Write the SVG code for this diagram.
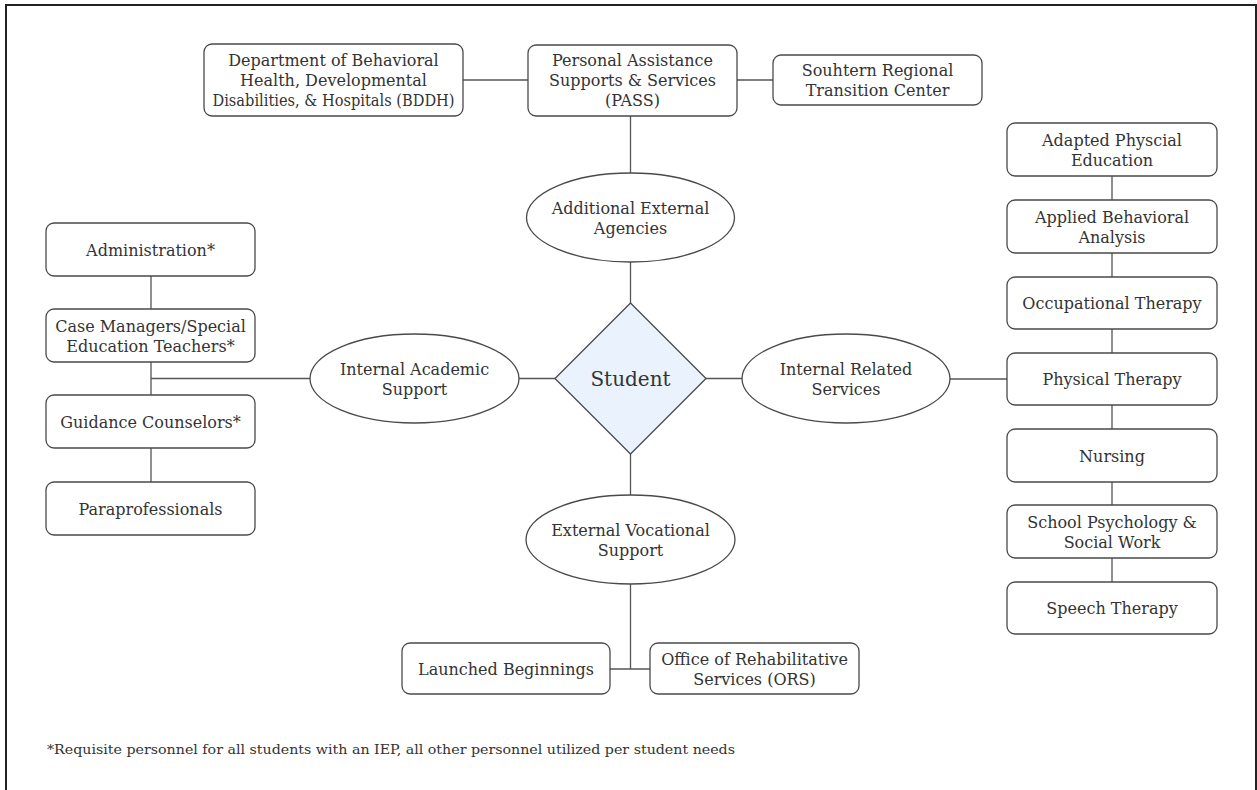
<svg xmlns="http://www.w3.org/2000/svg" width="1257" height="790" viewBox="0 0 1257 790">
<style>
.box{fill:#fff;stroke:#4a4a4a;stroke-width:1.3}
.ell{fill:#fff;stroke:#4a4a4a;stroke-width:1.3}
.dia{fill:#eaf2fd;stroke:#4a4a4a;stroke-width:1.3;stroke-linejoin:round}
.conn path{fill:none;stroke:#555;stroke-width:1.3}
text{font-family:"DejaVu Serif","Liberation Serif",serif;font-size:16px;fill:#333;text-anchor:middle}
.big{font-size:20px}
.foot{font-size:13px;text-anchor:start}
</style>
<rect x="0" y="0" width="1257" height="790" fill="#fff"/>
<rect x="6" y="5" width="1250" height="820" fill="none" stroke="#222" stroke-width="2"/>
<g class="conn" id="connectors">
<path d="M463 80H528"/>
<path d="M737 80H773"/>
<path d="M630.5 116V173"/>
<path d="M630.5 262V303"/>
<path d="M555 378.5H519"/>
<path d="M310 378.5H151"/>
<path d="M151 276V309M151 362V395M151 448V482"/>
<path d="M706 378.5H742"/>
<path d="M950 379H1007"/>
<path d="M1112 176V200M1112 253V277M1112 329V353M1112 405V429M1112 482V505M1112 558V582"/>
<path d="M630.5 454V495"/>
<path d="M630.5 584V669M610 669H650"/>
</g>
<g id="bddh"><rect class="box" x="204" y="44" width="259" height="72" rx="8"/><text x="333.5" y="66">Department of Behavioral</text><text x="333.5" y="86">Health, Developmental</text><text x="333.5" y="106" textLength="242" lengthAdjust="spacingAndGlyphs">Disabilities, &amp; Hospitals (BDDH)</text></g>
<g id="pass"><rect class="box" x="528" y="45" width="209" height="71" rx="8"/><text x="632.5" y="66">Personal Assistance</text><text x="632.5" y="86">Supports &amp; Services</text><text x="632.5" y="106">(PASS)</text></g>
<g id="southern"><rect class="box" x="773" y="55" width="209" height="50" rx="8"/><text x="877.5" y="76">Souhtern Regional</text><text x="877.5" y="96">Transition Center</text></g>
<g id="aea"><ellipse class="ell" cx="630.5" cy="217.5" rx="104" ry="44.5"/><text x="630.5" y="213.5">Additional External</text><text x="630.5" y="233.5">Agencies</text></g>
<g id="student"><path class="dia" d="M630.5 303L706 378.5L630.5 454L555 378.5Z"/><text class="big" x="630.5" y="386">Student</text></g>
<g id="ias"><ellipse class="ell" cx="414.5" cy="378.5" rx="104.5" ry="44.5"/><text x="414.5" y="374.5">Internal Academic</text><text x="414.5" y="394.5">Support</text></g>
<g id="irs"><ellipse class="ell" cx="846" cy="378.5" rx="104" ry="44.5"/><text x="846" y="374.5">Internal Related</text><text x="846" y="394.5">Services</text></g>
<g id="evs"><ellipse class="ell" cx="630.5" cy="539.5" rx="104.5" ry="44.5"/><text x="630.5" y="535.5">External Vocational</text><text x="630.5" y="555.5">Support</text></g>
<g id="admin"><rect class="box" x="46" y="223" width="209" height="53" rx="8"/><text x="150.5" y="255.5">Administration*</text></g>
<g id="case"><rect class="box" x="46" y="309" width="209" height="53" rx="8"/><text x="150.5" y="331.5">Case Managers/Special</text><text x="150.5" y="351.5">Education Teachers*</text></g>
<g id="guidance"><rect class="box" x="46" y="395" width="209" height="53" rx="8"/><text x="150.5" y="427.5">Guidance Counselors*</text></g>
<g id="para"><rect class="box" x="46" y="482" width="209" height="53" rx="8"/><text x="150.5" y="514.5">Paraprofessionals</text></g>
<g id="ape"><rect class="box" x="1007" y="123" width="210" height="53" rx="8"/><text x="1112" y="145.5">Adapted Physcial</text><text x="1112" y="165.5">Education</text></g>
<g id="aba"><rect class="box" x="1007" y="200" width="210" height="53" rx="8"/><text x="1112" y="222.5">Applied Behavioral</text><text x="1112" y="242.5">Analysis</text></g>
<g id="ot"><rect class="box" x="1007" y="277" width="210" height="52" rx="8"/><text x="1112" y="309">Occupational Therapy</text></g>
<g id="pt"><rect class="box" x="1007" y="353" width="210" height="52" rx="8"/><text x="1112" y="385">Physical Therapy</text></g>
<g id="nursing"><rect class="box" x="1007" y="429" width="210" height="53" rx="8"/><text x="1112" y="461.5">Nursing</text></g>
<g id="psych"><rect class="box" x="1007" y="505" width="210" height="53" rx="8"/><text x="1112" y="527.5">School Psychology &amp;</text><text x="1112" y="547.5">Social Work</text></g>
<g id="speech"><rect class="box" x="1007" y="582" width="210" height="52" rx="8"/><text x="1112" y="614">Speech Therapy</text></g>
<g id="launched"><rect class="box" x="402" y="643" width="208" height="51" rx="8"/><text x="506" y="674.5">Launched Beginnings</text></g>
<g id="ors"><rect class="box" x="650" y="643" width="209" height="51" rx="8"/><text x="754.5" y="664.5">Office of Rehabilitative</text><text x="754.5" y="684.5">Services (ORS)</text></g>
<g id="footnote"><text class="foot" x="47" y="754" textLength="688" lengthAdjust="spacingAndGlyphs">*Requisite personnel for all students with an IEP, all other personnel utilized per student needs</text></g>
</svg>
